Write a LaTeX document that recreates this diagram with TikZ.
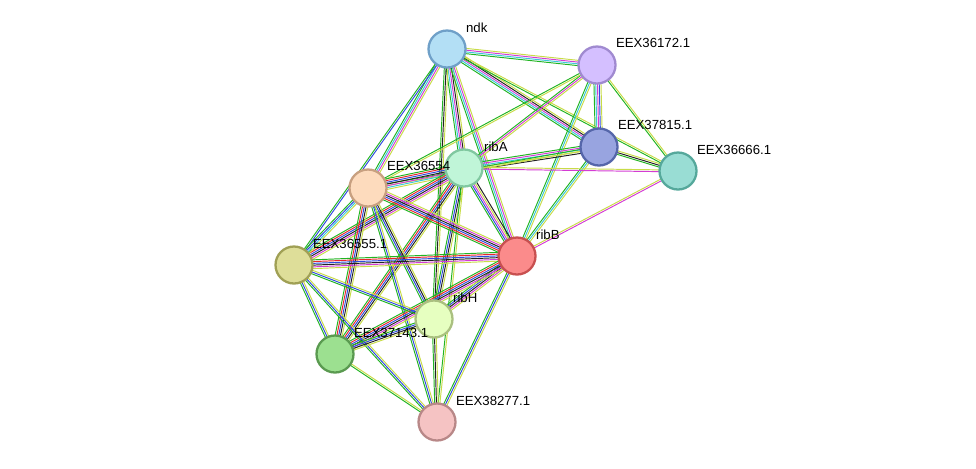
\documentclass[tikz,border=0pt]{standalone}
\usepackage{fontspec}
\setmainfont{Liberation Sans}
\usetikzlibrary{calc}

\definecolor{cgreen}{HTML}{22B422}
\definecolor{cred}{HTML}{E8262C}
\definecolor{cblue}{HTML}{2F4BE0}
\definecolor{cblack}{HTML}{222222}
\definecolor{cmag}{HTML}{D43CD4}
\definecolor{ccyan}{HTML}{3CC8D8}
\definecolor{cyel}{HTML}{C8DC48}

\tikzset{
  prot/.style={circle, draw, line width=1.3pt, minimum size=0.74cm, inner sep=0pt},
  lab/.style={font=\fontsize{7.5}{8}\selectfont, inner sep=1pt}
}

% parallel coloured lines between two nodes
\newcommand\edge[3]{%
  \foreach \c [count=\i] in {#3} {\xdef\ncol{\i}}
  \foreach \c [count=\i] in {#3} {
    \pgfmathsetmacro\o{(\i-(\ncol+1)/2)*1.0}
    \draw[\c, line width=0.55pt] ($(#1)!\o pt!90:(#2)$) -- ($(#2)!\o pt!-90:(#1)$);
  }
}

\begin{document}
\begin{tikzpicture}[x=0.02cm, y=-0.02cm]
  \useasboundingbox (0,0) rectangle (976,468);

  % positions
  \coordinate (ndk) at (447,49);
  \coordinate (e72) at (597,65);
  \coordinate (e15) at (599,147);
  \coordinate (e66) at (678,171);
  \coordinate (ribA) at (464,168);
  \coordinate (e54) at (368,188);
  \coordinate (ribB) at (517,256);
  \coordinate (e55) at (294,265);
  \coordinate (ribH) at (434,319);
  \coordinate (e43) at (335,354);
  \coordinate (e77) at (437,422);

  % edges
  \edge{ndk}{e72}{cgreen,ccyan,cmag,cyel}
  \edge{ndk}{e15}{cgreen,ccyan,cmag,cblack,cyel}
  \edge{ndk}{e66}{cgreen,cyel}
  \edge{ndk}{ribA}{cgreen,ccyan,cmag,cblack,cyel}
  \edge{ndk}{e54}{cgreen,ccyan,cmag,cyel}
  \edge{ndk}{ribB}{cgreen,ccyan,cmag,cyel}
  \edge{ndk}{ribH}{cgreen,cblack,cyel}
  \edge{ndk}{e55}{cgreen,cblue}
  \edge{e72}{e15}{cgreen,ccyan,cmag,cblue,cyel}
  \edge{e72}{e66}{cgreen,cyel}
  \edge{e72}{ribA}{cgreen,cmag,cyel}
  \edge{e72}{e54}{cgreen,cyel}
  \edge{e72}{ribB}{cgreen,ccyan,cyel}
  \edge{e15}{e66}{cgreen,cblack,cyel}
  \edge{e15}{ribA}{cgreen,cmag,ccyan,cyel,cblack}
  \edge{e15}{ribB}{cgreen,ccyan,cyel}
  \edge{e15}{e54}{cgreen,cyel}
  \edge{ribA}{e66}{cmag,cyel}
  \edge{ribB}{e66}{cmag,cyel}
  \edge{ribA}{e54}{cgreen,cred,cblue,cblack,cmag,ccyan,cyel}
  \edge{ribA}{ribB}{cgreen,cblue,cmag,cyel,cblack}
  \edge{ribA}{e55}{cgreen,cred,cblue,cblack,cmag,cyel}
  \edge{ribA}{ribH}{cgreen,cblue,cblack,cyel}
  \edge{ribA}{e43}{cgreen,cred,cblue,cblack,cyel}
  \edge{ribA}{e77}{cgreen,cyel}
  \edge{e54}{ribB}{cgreen,cred,cblue,cblack,cmag,cyel}
  \edge{e54}{e55}{cgreen,cblue,ccyan,cyel}
  \edge{e54}{ribH}{cgreen,cblue,cblack,cyel}
  \edge{e54}{e43}{cgreen,cred,cblue,cblack,cyel}
  \edge{e54}{e77}{cgreen,cblue,cyel}
  \edge{ribB}{e55}{cgreen,cred,cblue,cblack,cmag,cyel}
  \edge{ribB}{ribH}{cgreen,cblue,cblack,cmag,cyel}
  \edge{ribB}{e43}{cgreen,cred,cblue,cblack,cmag,cyel}
  \edge{ribB}{e77}{cgreen,cblue,cyel}
  \edge{e55}{ribH}{cgreen,cblue,cyel}
  \edge{e55}{e43}{cgreen,cblue,cyel}
  \edge{e55}{e77}{cgreen,cblue,cyel}
  \edge{ribH}{e43}{cgreen,cblue,cblack,cyel}
  \edge{ribH}{e77}{cgreen,cblack,cyel}
  \edge{e43}{e77}{cgreen,cyel}

  % proteins
  \node[prot, fill={rgb,255:red,179;green,223;blue,245}, draw={rgb,255:red,111;green,160;blue,200}] (n1) at (ndk) {};
  \node[prot, fill={rgb,255:red,212;green,191;blue,255}, draw={rgb,255:red,160;green,138;blue,208}] (n2) at (e72) {};
  \node[prot, fill={rgb,255:red,152;green,164;blue,224}, draw={rgb,255:red,85;green,102;blue,170}] (n3) at (e15) {};
  \node[prot, fill={rgb,255:red,153;green,221;blue,212}, draw={rgb,255:red,85;green,168;blue,155}] (n4) at (e66) {};
  \node[prot, fill={rgb,255:red,192;green,245;blue,216}, draw={rgb,255:red,128;green,200;blue,160}] (n5) at (ribA) {};
  \node[prot, fill={rgb,255:red,253;green,219;blue,189}, draw={rgb,255:red,200;green,160;blue,128}] (n6) at (e54) {};
  \node[prot, fill={rgb,255:red,251;green,139;blue,139}, draw={rgb,255:red,200;green,80;blue,80}] (n7) at (ribB) {};
  \node[prot, fill={rgb,255:red,222;green,222;blue,153}, draw={rgb,255:red,160;green,160;blue,85}] (n8) at (e55) {};
  \node[prot, fill={rgb,255:red,230;green,255;blue,192}, draw={rgb,255:red,170;green,192;blue,128}] (n9) at (ribH) {};
  \node[prot, fill={rgb,255:red,156;green,224;blue,144}, draw={rgb,255:red,90;green,154;blue,80}] (n10) at (e43) {};
  \node[prot, fill={rgb,255:red,245;green,195;blue,195}, draw={rgb,255:red,184;green,136;blue,136}] (n11) at (e77) {};

  % labels
  \node[lab, anchor=west] (l1) at (464,28) {ndk};
  \node[lab, anchor=west] (l2) at (614,43) {EEX36172.1};
  \node[lab, anchor=west] (l3) at (616,125) {EEX37815.1};
  \node[lab, anchor=west] (l4) at (695,150) {EEX36666.1};
  \node[lab, anchor=west] (l5) at (482,147) {ribA};
  \node[lab, anchor=west] (l6) at (385,166) {EEX36554};
  \node[lab, anchor=west] (l7) at (534,235) {ribB};
  \node[lab, anchor=west] (l8) at (311,244) {EEX36555.1};
  \node[lab, anchor=west] (l9) at (451,298) {ribH};
  \node[lab, anchor=west] (l10) at (352,333) {EEX37143.1};
  \node[lab, anchor=west] (l11) at (454,401) {EEX38277.1};
\end{tikzpicture}
\end{document}
